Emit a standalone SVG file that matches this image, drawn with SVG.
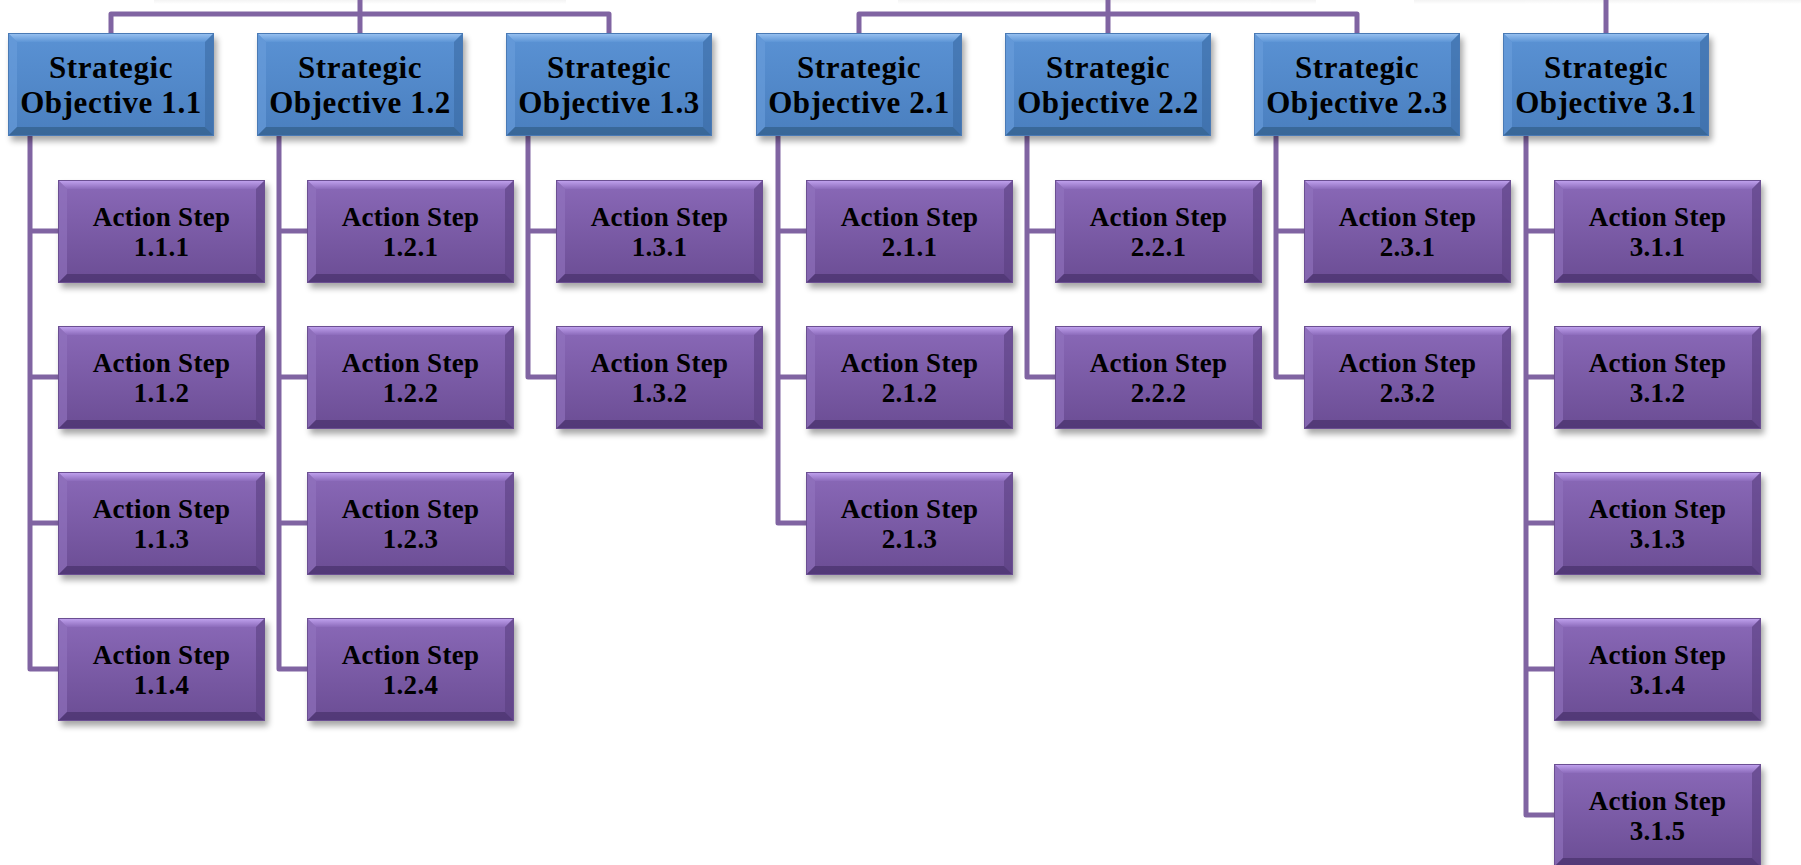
<svg xmlns="http://www.w3.org/2000/svg" xmlns:xlink="http://www.w3.org/1999/xlink" width="1801" height="865" viewBox="0 0 1801 865">
<style>
  .conn { fill: none; stroke: #8064a2; stroke-width: 5; stroke-linejoin: round; stroke-linecap: butt; }
  .t { font-family: "Liberation Serif", "Times New Roman", serif; font-weight: bold; fill: #000; text-anchor: middle; }
  .obj { font-size: 31px; letter-spacing: 0.6px; }
  .act { font-size: 27px; letter-spacing: 0.3px; }
</style>
<defs>
  <filter id="sh" x="-10%" y="-20%" width="120%" height="150%">
    <feGaussianBlur stdDeviation="3"/>
  </filter>
  <linearGradient id="gBlue" x1="0" y1="0" x2="0" y2="1">
    <stop offset="0" stop-color="#5a92d4"/>
    <stop offset="1" stop-color="#4a7fbf"/>
  </linearGradient>
  <linearGradient id="gPurp" x1="0" y1="0" x2="0" y2="1">
    <stop offset="0" stop-color="#8a69b8"/>
    <stop offset="1" stop-color="#6b4d94"/>
  </linearGradient>
  <linearGradient id="gTopB" x1="0" y1="0" x2="0" y2="1">
    <stop offset="0" stop-color="#9cc4f2"/>
    <stop offset="1" stop-color="#5d95d6"/>
  </linearGradient>
  <linearGradient id="gTopP" x1="0" y1="0" x2="0" y2="1">
    <stop offset="0" stop-color="#c4a6f2"/>
    <stop offset="1" stop-color="#8c6bbb"/>
  </linearGradient>
  <linearGradient id="gFaint" x1="0" y1="0" x2="0" y2="1">
    <stop offset="0" stop-color="#ececec"/>
    <stop offset="1" stop-color="#ffffff"/>
  </linearGradient>
  <g id="objBox">
    <rect x="3" y="5" width="206" height="103" fill="#000" opacity="0.35" filter="url(#sh)"/>
    <rect x="0" y="0" width="206" height="103" fill="url(#gBlue)"/>
    <polygon points="0,0 206,0 197,9 9,9" fill="url(#gTopB)"/>
    <polygon points="0,0 9,9 9,94 0,103" fill="#6a9fdc" opacity="0.6"/>
    <polygon points="206,0 197,9 197,94 206,103" fill="#3b6aa3" opacity="0.6"/>
    <polygon points="0,103 9,94 197,94 206,103" fill="#35628f" opacity="0.8"/>
    <rect x="0.5" y="0.5" width="205" height="102" fill="none" stroke="#4a7ab5" stroke-width="1"/>
  </g>
  <g id="actBox">
    <rect x="3" y="5" width="207" height="103" fill="#000" opacity="0.35" filter="url(#sh)"/>
    <rect x="0" y="0" width="207" height="103" fill="url(#gPurp)"/>
    <polygon points="0,0 207,0 198,9 9,9" fill="url(#gTopP)"/>
    <polygon points="0,0 9,9 9,94 0,103" fill="#9275c0" opacity="0.6"/>
    <polygon points="207,0 198,9 198,94 207,103" fill="#5a3f80" opacity="0.6"/>
    <polygon points="0,103 9,94 198,94 207,103" fill="#4c3570" opacity="0.8"/>
    <rect x="0.5" y="0.5" width="206" height="102" fill="none" stroke="#6b4f92" stroke-width="1"/>
  </g>
</defs>
<rect width="1801" height="865" fill="#ffffff"/>
<g id="above" opacity="0.6">
  <rect x="154" y="0" width="412" height="4" fill="url(#gFaint)"/>
  <rect x="898" y="0" width="418" height="4" fill="url(#gFaint)"/>
  <rect x="1414" y="0" width="387" height="4" fill="url(#gFaint)"/>
</g>
<g id="connectors">
  <path class="conn" d="M111,33 V14 H609 V33 M360,0 V33"/>
  <path class="conn" d="M859,33 V14 H1357 V33 M1108,0 V33"/>
  <path class="conn" d="M1606,0 V33"/>
  <path class="conn" d="M30,136 V669 H58 M30,231 H58 M30,377 H58 M30,523 H58"/>
  <path class="conn" d="M279,136 V669 H307 M279,231 H307 M279,377 H307 M279,523 H307"/>
  <path class="conn" d="M528,136 V377 H556 M528,231 H556"/>
  <path class="conn" d="M778,136 V523 H806 M778,231 H806 M778,377 H806"/>
  <path class="conn" d="M1027,136 V377 H1055 M1027,231 H1055"/>
  <path class="conn" d="M1276,136 V377 H1304 M1276,231 H1304"/>
  <path class="conn" d="M1526,136 V815 H1554 M1526,231 H1554 M1526,377 H1554 M1526,523 H1554 M1526,669 H1554"/>
</g>

<g id="obj-1-1" transform="translate(8,33)"><use href="#objBox"/><text class="t obj" x="103" y="45">Strategic</text><text class="t obj" x="103" y="80">Objective 1.1</text></g>
<g id="obj-1-2" transform="translate(257,33)"><use href="#objBox"/><text class="t obj" x="103" y="45">Strategic</text><text class="t obj" x="103" y="80">Objective 1.2</text></g>
<g id="obj-1-3" transform="translate(506,33)"><use href="#objBox"/><text class="t obj" x="103" y="45">Strategic</text><text class="t obj" x="103" y="80">Objective 1.3</text></g>
<g id="obj-2-1" transform="translate(756,33)"><use href="#objBox"/><text class="t obj" x="103" y="45">Strategic</text><text class="t obj" x="103" y="80">Objective 2.1</text></g>
<g id="obj-2-2" transform="translate(1005,33)"><use href="#objBox"/><text class="t obj" x="103" y="45">Strategic</text><text class="t obj" x="103" y="80">Objective 2.2</text></g>
<g id="obj-2-3" transform="translate(1254,33)"><use href="#objBox"/><text class="t obj" x="103" y="45">Strategic</text><text class="t obj" x="103" y="80">Objective 2.3</text></g>
<g id="obj-3-1" transform="translate(1503,33)"><use href="#objBox"/><text class="t obj" x="103" y="45">Strategic</text><text class="t obj" x="103" y="80">Objective 3.1</text></g>

<g id="act-1-1-1" transform="translate(58,180)"><use href="#actBox"/><text class="t act" x="103.5" y="46">Action Step</text><text class="t act" x="103.5" y="76">1.1.1</text></g>
<g id="act-1-1-2" transform="translate(58,326)"><use href="#actBox"/><text class="t act" x="103.5" y="46">Action Step</text><text class="t act" x="103.5" y="76">1.1.2</text></g>
<g id="act-1-1-3" transform="translate(58,472)"><use href="#actBox"/><text class="t act" x="103.5" y="46">Action Step</text><text class="t act" x="103.5" y="76">1.1.3</text></g>
<g id="act-1-1-4" transform="translate(58,618)"><use href="#actBox"/><text class="t act" x="103.5" y="46">Action Step</text><text class="t act" x="103.5" y="76">1.1.4</text></g>

<g id="act-1-2-1" transform="translate(307,180)"><use href="#actBox"/><text class="t act" x="103.5" y="46">Action Step</text><text class="t act" x="103.5" y="76">1.2.1</text></g>
<g id="act-1-2-2" transform="translate(307,326)"><use href="#actBox"/><text class="t act" x="103.5" y="46">Action Step</text><text class="t act" x="103.5" y="76">1.2.2</text></g>
<g id="act-1-2-3" transform="translate(307,472)"><use href="#actBox"/><text class="t act" x="103.5" y="46">Action Step</text><text class="t act" x="103.5" y="76">1.2.3</text></g>
<g id="act-1-2-4" transform="translate(307,618)"><use href="#actBox"/><text class="t act" x="103.5" y="46">Action Step</text><text class="t act" x="103.5" y="76">1.2.4</text></g>

<g id="act-1-3-1" transform="translate(556,180)"><use href="#actBox"/><text class="t act" x="103.5" y="46">Action Step</text><text class="t act" x="103.5" y="76">1.3.1</text></g>
<g id="act-1-3-2" transform="translate(556,326)"><use href="#actBox"/><text class="t act" x="103.5" y="46">Action Step</text><text class="t act" x="103.5" y="76">1.3.2</text></g>

<g id="act-2-1-1" transform="translate(806,180)"><use href="#actBox"/><text class="t act" x="103.5" y="46">Action Step</text><text class="t act" x="103.5" y="76">2.1.1</text></g>
<g id="act-2-1-2" transform="translate(806,326)"><use href="#actBox"/><text class="t act" x="103.5" y="46">Action Step</text><text class="t act" x="103.5" y="76">2.1.2</text></g>
<g id="act-2-1-3" transform="translate(806,472)"><use href="#actBox"/><text class="t act" x="103.5" y="46">Action Step</text><text class="t act" x="103.5" y="76">2.1.3</text></g>

<g id="act-2-2-1" transform="translate(1055,180)"><use href="#actBox"/><text class="t act" x="103.5" y="46">Action Step</text><text class="t act" x="103.5" y="76">2.2.1</text></g>
<g id="act-2-2-2" transform="translate(1055,326)"><use href="#actBox"/><text class="t act" x="103.5" y="46">Action Step</text><text class="t act" x="103.5" y="76">2.2.2</text></g>

<g id="act-2-3-1" transform="translate(1304,180)"><use href="#actBox"/><text class="t act" x="103.5" y="46">Action Step</text><text class="t act" x="103.5" y="76">2.3.1</text></g>
<g id="act-2-3-2" transform="translate(1304,326)"><use href="#actBox"/><text class="t act" x="103.5" y="46">Action Step</text><text class="t act" x="103.5" y="76">2.3.2</text></g>

<g id="act-3-1-1" transform="translate(1554,180)"><use href="#actBox"/><text class="t act" x="103.5" y="46">Action Step</text><text class="t act" x="103.5" y="76">3.1.1</text></g>
<g id="act-3-1-2" transform="translate(1554,326)"><use href="#actBox"/><text class="t act" x="103.5" y="46">Action Step</text><text class="t act" x="103.5" y="76">3.1.2</text></g>
<g id="act-3-1-3" transform="translate(1554,472)"><use href="#actBox"/><text class="t act" x="103.5" y="46">Action Step</text><text class="t act" x="103.5" y="76">3.1.3</text></g>
<g id="act-3-1-4" transform="translate(1554,618)"><use href="#actBox"/><text class="t act" x="103.5" y="46">Action Step</text><text class="t act" x="103.5" y="76">3.1.4</text></g>
<g id="act-3-1-5" transform="translate(1554,764)"><use href="#actBox"/><text class="t act" x="103.5" y="46">Action Step</text><text class="t act" x="103.5" y="76">3.1.5</text></g>
</svg>
